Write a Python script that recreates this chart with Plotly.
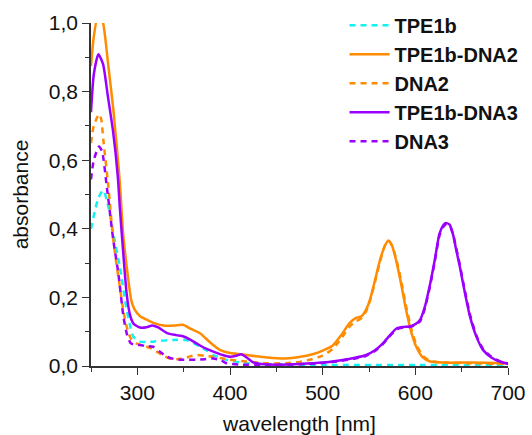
import plotly.graph_objects as go

# ---- data ----
x_tpe1b = [250, 254, 258, 263, 267, 274, 281, 288.5, 292, 295.6, 302.8, 310, 317, 328, 339, 353, 360, 367.6, 375, 382, 390, 396, 407, 418, 440, 500, 600, 700]
y_tpe1b = [0.40, 0.45, 0.49, 0.512, 0.485, 0.388, 0.29, 0.164, 0.12, 0.086, 0.071, 0.07, 0.071, 0.074, 0.076, 0.076, 0.068, 0.056, 0.045, 0.032, 0.024, 0.018, 0.012, 0.008, 0.005, 0.003, 0.003, 0.002]

x_tpe_dna2 = [250, 253, 258, 263, 268.7, 274, 281, 284.5, 288.5, 293.6, 297, 303, 310, 318, 328, 340, 349, 358, 368, 378, 389, 400, 418, 440, 460, 476, 490, 500, 511, 520, 529, 536, 542, 547, 551, 556, 562, 567, 571, 575, 580, 585, 590, 596, 601, 608, 616, 630, 660, 700]
y_tpe_dna2 = [0.875, 0.96, 1.03, 1.0, 0.875, 0.75, 0.54, 0.39, 0.29, 0.19, 0.165, 0.145, 0.135, 0.125, 0.118, 0.118, 0.12, 0.108, 0.095, 0.07, 0.047, 0.038, 0.032, 0.025, 0.022, 0.027, 0.035, 0.045, 0.06, 0.09, 0.125, 0.14, 0.145, 0.165, 0.193, 0.245, 0.31, 0.35, 0.366, 0.35, 0.30, 0.235, 0.164, 0.095, 0.056, 0.025, 0.013, 0.01, 0.01, 0.008]

x_dna2 = [250, 253, 258.6, 261, 263.3, 268.7, 274, 281, 285, 288.5, 293, 299, 305, 310, 316, 321, 328, 335, 342, 350, 357, 364, 372, 382, 390, 400, 418, 440, 460, 475, 486, 500, 511, 520, 529, 536, 542, 547, 551, 556, 562, 567, 571, 575, 580, 585, 590, 596, 601, 608, 616, 630, 660, 700]
y_dna2 = [0.65, 0.70, 0.734, 0.72, 0.66, 0.524, 0.368, 0.232, 0.16, 0.115, 0.08, 0.066, 0.06, 0.056, 0.05, 0.042, 0.03, 0.022, 0.02, 0.022, 0.028, 0.032, 0.03, 0.027, 0.023, 0.018, 0.013, 0.008, 0.008, 0.012, 0.018, 0.03, 0.05, 0.08, 0.115, 0.13, 0.14, 0.16, 0.19, 0.24, 0.305, 0.35, 0.364, 0.35, 0.305, 0.245, 0.175, 0.105, 0.063, 0.03, 0.015, 0.01, 0.008, 0.006]

x_tpe_dna3 = [250, 253, 258, 263, 268, 274, 279, 281, 284.5, 288.5, 292, 296, 303, 310, 316, 322, 332, 342, 350, 357, 364, 373, 382, 392, 400, 407, 412, 418, 424, 430, 450, 475, 500, 520, 535, 547, 556, 565, 572, 580, 587, 594, 600, 605, 610, 616, 621, 626, 630, 633, 637, 641, 644, 648, 653, 659, 666, 673, 682, 691, 700]
y_tpe_dna3 = [0.74, 0.85, 0.909, 0.88, 0.79, 0.68, 0.55, 0.466, 0.34, 0.21, 0.15, 0.123, 0.112, 0.113, 0.118, 0.113, 0.096, 0.09, 0.086, 0.077, 0.066, 0.052, 0.042, 0.032, 0.027, 0.03, 0.034, 0.025, 0.012, 0.007, 0.004, 0.006, 0.01, 0.017, 0.024, 0.032, 0.045, 0.066, 0.088, 0.11, 0.114, 0.115, 0.122, 0.134, 0.17, 0.24, 0.31, 0.385, 0.41, 0.417, 0.412, 0.38, 0.34, 0.29, 0.22, 0.144, 0.085, 0.047, 0.025, 0.013, 0.006]

x_dna3 = [250, 253, 258.6, 262, 267, 274, 279.5, 285, 289, 293, 298, 303, 310, 317, 324, 332, 340, 346, 355, 364, 373, 382, 390, 396, 410, 440, 475, 500, 520, 535, 547, 556, 565, 572, 580, 587, 594, 600, 605, 610, 616, 621, 626, 630, 633, 637, 641, 644, 648, 653, 659, 666, 673, 682, 691, 700]
y_dna3 = [0.544, 0.60, 0.64, 0.625, 0.524, 0.368, 0.27, 0.144, 0.09, 0.066, 0.062, 0.061, 0.058, 0.056, 0.042, 0.027, 0.02, 0.018, 0.018, 0.018, 0.02, 0.022, 0.017, 0.008, 0.004, 0.003, 0.005, 0.009, 0.015, 0.022, 0.03, 0.043, 0.064, 0.086, 0.107, 0.112, 0.114, 0.12, 0.13, 0.165, 0.235, 0.305, 0.38, 0.405, 0.413, 0.41, 0.38, 0.345, 0.295, 0.225, 0.15, 0.088, 0.05, 0.027, 0.014, 0.007]

x_ticks = [300, 400, 500, 600, 700]
y_ticks = [0.0, 0.2, 0.4, 0.6, 0.8, 1.0]

CYAN = "#10f2f2"
ORANGE = "#ff8c00"
PURPLE = "#9b00ff"
DASH = "6px,5px"

series = [
    ("TPE1b", x_tpe1b, y_tpe1b, CYAN, DASH),
    ("TPE1b-DNA2", x_tpe_dna2, y_tpe_dna2, ORANGE, "solid"),
    ("DNA2", x_dna2, y_dna2, ORANGE, DASH),
    ("TPE1b-DNA3", x_tpe_dna3, y_tpe_dna3, PURPLE, "solid"),
    ("DNA3", x_dna3, y_dna3, PURPLE, DASH),
]

fig = go.Figure()
for name, xs, ys, col, dash in series:
    fig.add_trace(go.Scatter(
        x=xs, y=ys, name=name, mode="lines",
        line=dict(color=col, width=2.5, dash=dash, shape="spline", smoothing=0.6),
    ))

FONT = "Arial, Liberation Sans, sans-serif"
axis_common = dict(
    showgrid=False, zeroline=False, showline=True, linecolor="#333333", linewidth=1.5,
    ticks="outside", ticklen=7, tickwidth=1.2, tickcolor="#333333",
    tickfont=dict(family=FONT, size=21, color="#111111"),
    mirror=False, automargin=False,
)

fig.update_layout(
    width=532, height=435,
    margin=dict(l=91, r=24, t=23, b=69, autoexpand=False),
    paper_bgcolor="white", plot_bgcolor="white",
    separators=",.",
    font=dict(family=FONT, color="#111111"),
    xaxis=dict(
        range=[250, 700], tickvals=x_ticks,
        title=dict(text="wavelength [nm]", font=dict(family=FONT, size=21), standoff=16),
        minor=dict(ticks="outside", ticklen=4, dtick=50, tick0=250, tickcolor="#333333"),
        **axis_common,
    ),
    yaxis=dict(
        range=[0, 1.0], tickvals=y_ticks, tickformat=".1f",
        title=dict(text="absorbance", font=dict(family=FONT, size=21), standoff=14),
        minor=dict(ticks="outside", ticklen=4, dtick=0.1, tickcolor="#333333"),
        **axis_common,
    ),
    legend=dict(
        x=0.608, y=1.05, xanchor="left", yanchor="top",
        font=dict(family=FONT, size=20, color="#111111", weight="bold"),
        bgcolor="rgba(0,0,0,0)", tracegroupgap=0, itemwidth=40,
    ),
    showlegend=True,
)

fig.write_html("out.html")
